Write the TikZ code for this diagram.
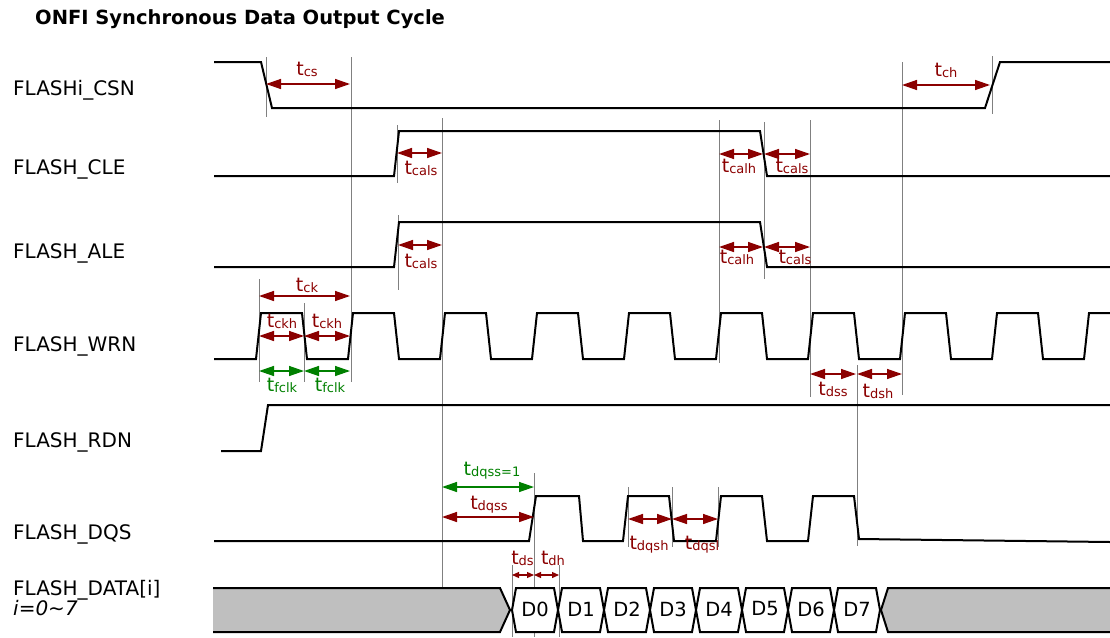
\documentclass[tikz,border=0pt]{standalone}
\usepackage{fontspec}
\setmainfont{DejaVu Sans}
\usetikzlibrary{arrows.meta}
\definecolor{dred}{RGB}{139,0,0}
\definecolor{dgreen}{RGB}{0,128,0}
\definecolor{glc}{RGB}{128,128,128}
\definecolor{busgray}{RGB}{191,191,191}
\newcommand{\tsb}[1]{t\raisebox{-1.5pt}{\fontsize{13}{13}\selectfont #1}}
\tikzset{
  sig/.style={line width=2pt},
  gl/.style={draw=glc, line width=0.9pt},
  rarr/.style={draw=dred, line width=1.4pt, {Triangle[length=15pt,width=10pt]}-{Triangle[length=15pt,width=10pt]}, color=dred},
  garr/.style={draw=dgreen, line width=1.4pt, {Triangle[length=15pt,width=10pt]}-{Triangle[length=15pt,width=10pt]}, color=dgreen},
  sarr/.style={draw=dred, line width=1.2pt, {Triangle[length=7pt,width=6pt]}-{Triangle[length=7pt,width=6pt]}, color=dred},
  lbl/.style={anchor=base west, inner sep=0pt, font=\fontsize{20}{22}\selectfont},
  tlab/.style={anchor=base, inner sep=0pt, text=dred, font=\fontsize{19}{21}\selectfont},
  tglab/.style={tlab, text=dgreen},
  dlab/.style={inner sep=0pt, font=\fontsize{19.5}{21}\selectfont}
}
\begin{document}
\begin{tikzpicture}[x=1pt,y=-1pt]
\useasboundingbox (0,0) rectangle (1110,637);
% title
\node[anchor=base west, inner sep=0pt, font=\bfseries\fontsize{19.5}{22}\selectfont] (title) at (35,24) {ONFI Synchronous Data Output Cycle};
% signal names
\node[lbl] (ncsn) at (13,95) {FLASHi\_CSN};
\node[lbl] (ncle) at (13,174) {FLASH\_CLE};
\node[lbl] (nale) at (13,258) {FLASH\_ALE};
\node[lbl] (nwrn) at (13,351) {FLASH\_WRN};
\node[lbl] (nrdn) at (13,447) {FLASH\_RDN};
\node[lbl] (ndqs) at (13,539) {FLASH\_DQS};
\node[lbl] (ndata) at (13,595) {FLASH\_DATA[i]};
\node[lbl, font=\itshape\fontsize{20}{22}\selectfont] (nidx) at (13,615) {i=0\textasciitilde 7};
% grey guide lines
\draw[gl] (266,57) -- (266,117);
\draw[gl] (351,57) -- (351,382);
\draw[gl] (442,118) -- (442,588);
\draw[gl] (397,125) -- (397,183);
\draw[gl] (398,215) -- (398,290);
\draw[gl] (719,120) -- (719,363);
\draw[gl] (764,122) -- (764,279);
\draw[gl] (810,120) -- (810,397);
\draw[gl] (902,62) -- (902,395);
\draw[gl] (992,56) -- (992,114);
\draw[gl] (259,279) -- (259,382);
\draw[gl] (304,303) -- (304,382);
\draw[gl] (857,365) -- (857,546);
\draw[gl] (534,473) -- (534,637);
\draw[gl] (628,487) -- (628,547);
\draw[gl] (672,487) -- (672,547);
\draw[gl] (718,487) -- (718,547);
\draw[gl] (512,565) -- (512,637);
\draw[gl] (559,565) -- (559,637);
% waveforms
\draw[sig] (214,62) -- (261,62) -- (272,108) -- (985,108) -- (1000,62) -- (1110,62);
\draw[sig] (214,176) -- (394,176) -- (399,131) -- (760,131) -- (767,176) -- (1110,176);
\draw[sig] (214,267) -- (394,267) -- (399,222) -- (760,222) -- (767,267) -- (1110,267);
\draw[sig] (214,359) \foreach \r in {256,348,...,992} { -- (\r,359) -- ({\r+5},313) -- ({\r+46},313) -- ({\r+51},359) } -- (1084,359) -- (1089,313) -- (1110,313);
\draw[sig] (221,451) -- (261,451) -- (268,405) -- (1110,405);
\draw[sig] (214,541) -- (529,541) -- (536,496) -- (579,496) -- (583,541) -- (623,541) -- (628,496) -- (669,496) -- (674,541) -- (716,541) -- (721,496) -- (762,496) -- (767,541) -- (808,541) -- (813,496) -- (854,496) -- (859,539) -- (1110,542);
% data bus
\fill[busgray] (213,588) -- (500,588) -- (510,610) -- (500,632) -- (213,632) -- cycle;
\draw[sig] (213,588) -- (500,588) -- (510,610) -- (500,632) -- (213,632);
\fill[busgray] (1110,588) -- (888,588) -- (881,610) -- (888,632) -- (1110,632) -- cycle;
\draw[sig] (1110,588) -- (888,588) -- (881,610) -- (888,632) -- (1110,632);
\foreach \i in {0,...,7} {
  \draw[sig, fill=white] ({512+46*\i},610) -- ({516+46*\i},588) -- ({554+46*\i},588) -- ({558+46*\i},610) -- ({554+46*\i},632) -- ({516+46*\i},632) -- cycle;
  \node[dlab] (d\i) at ({535+46*\i},609) {D\i};
}
% timing arrows
\draw[rarr] (266,84) -- (350,84);
\node[tlab] (tcs) at (307,75) {\tsb{cs}};
\draw[rarr] (902,85) -- (990,85);
\node[tlab] (tch) at (946,76) {\tsb{ch}};
\draw[rarr] (397,153) -- (442,153);
\node[tlab] (tcals1) at (421,174) {\tsb{cals}};
\draw[rarr] (719,154) -- (763,154);
\node[tlab] (tcalh1) at (739,172) {\tsb{calh}};
\draw[rarr] (764,154) -- (810,154);
\node[tlab] (tcals2) at (792,172) {\tsb{cals}};
\draw[rarr] (398,245) -- (442,245);
\node[tlab] (tcals3) at (421,267) {\tsb{cals}};
\draw[rarr] (719,247) -- (763,247);
\node[tlab] (tcalh2) at (737,263) {\tsb{calh}};
\draw[rarr] (764,247) -- (810,247);
\node[tlab] (tcals4) at (795,263) {\tsb{cals}};
\draw[rarr] (259,296) -- (350,296);
\node[tlab] (tck) at (307,291) {\tsb{ck}};
\draw[rarr] (259,336) -- (304,336);
\draw[rarr] (304,336) -- (350,336);
\node[tlab] (tckh1) at (282,327) {\tsb{ckh}};
\node[tlab] (tckh2) at (327,327) {\tsb{ckh}};
\draw[garr] (259,371) -- (304,371);
\draw[garr] (304,371) -- (350,371);
\node[tglab] (tfclk1) at (282,391) {\tsb{fclk}};
\node[tglab] (tfclk2) at (330,391) {\tsb{fclk}};
\draw[rarr] (810,374) -- (856,374);
\draw[rarr] (857,374) -- (902,374);
\node[tlab] (tdss) at (833,395) {\tsb{dss}};
\node[tlab] (tdsh) at (878,397) {\tsb{dsh}};
\draw[garr] (442,487) -- (534,487);
\node[tglab] (tdqss1) at (492,475) {\tsb{dqss=1}};
\draw[rarr] (442,517) -- (534,517);
\node[tlab] (tdqss) at (489,509) {\tsb{dqss}};
\draw[rarr] (628,519) -- (672,519);
\draw[rarr] (672,519) -- (718,519);
\node[tlab] (tdqsh) at (649,549) {\tsb{dqsh}};
\node[tlab] (tdqsl) at (702,549) {\tsb{dqsl}};
\draw[sarr] (512,575) -- (534,575);
\draw[sarr] (534,575) -- (559,575);
\node[tlab] (tds) at (522.5,564) {\tsb{ds}};
\node[tlab] (tdh) at (553,564) {\tsb{dh}};
\end{tikzpicture}
\end{document}
